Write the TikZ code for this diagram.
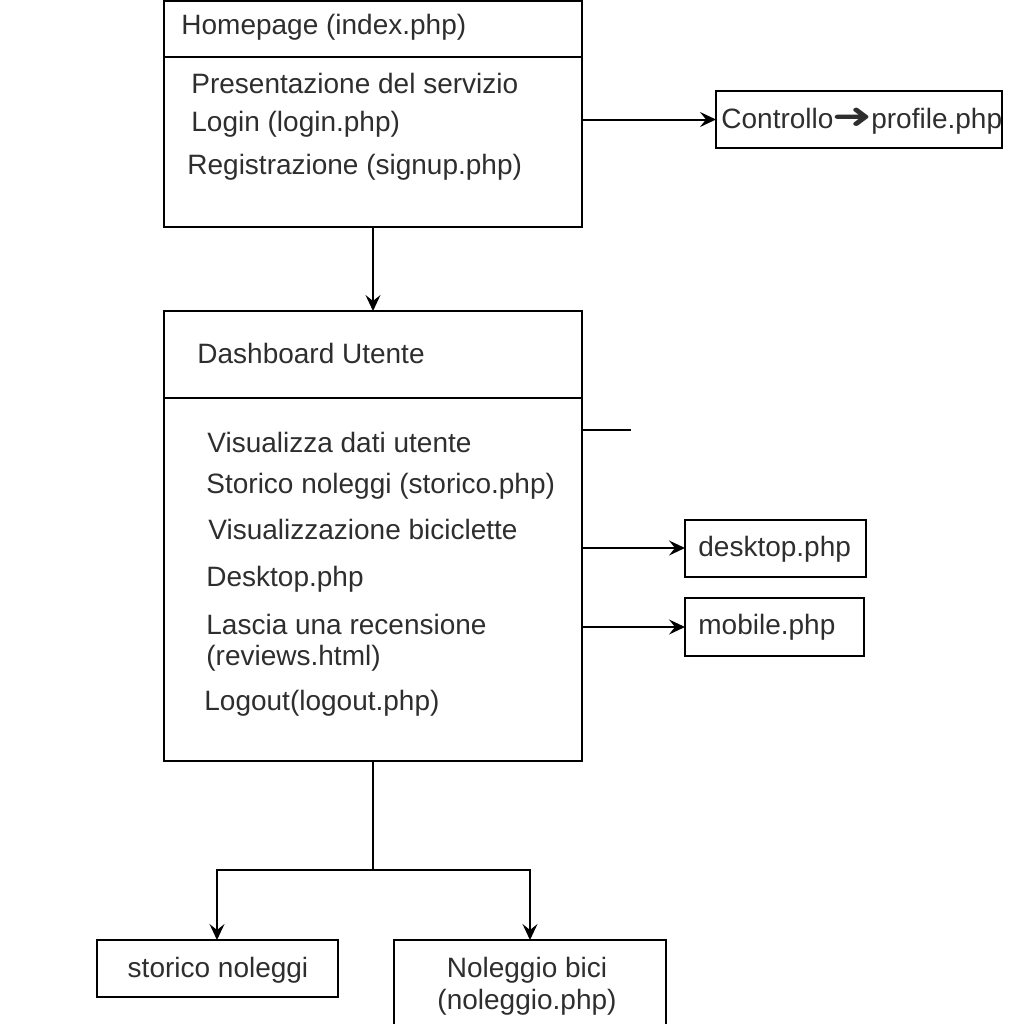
\documentclass[tikz,border=0pt]{standalone}
\usepackage{fontspec}
\setmainfont{Liberation Sans}
\newfontfamily\arrowfont{DejaVu Sans}
\usetikzlibrary{arrows.meta}
\begin{document}
\begin{tikzpicture}[x=0.5pt,y=-0.5pt,
    box/.style={draw,line width=1pt,inner sep=0pt,outer sep=0pt},
    txt/.style={anchor=base west,inner sep=0pt,text=black!82,font=\fontsize{14}{16}\selectfont},
    ctxt/.style={txt,anchor=base},
    link/.style={line width=1pt,-{Stealth[length=8pt,width=7.5pt,inset=3pt]}}]
    \useasboundingbox (0,0) rectangle (1022,1024);

    % homepage
    \node[box,minimum width=209pt,minimum height=28pt] (homehead) at (373,29) {};
    \node[box,minimum width=209pt,minimum height=85pt] (homebody) at (373,142) {};
    \node[txt] (hometitle) at (181,34) {Homepage (index.php)};
    \node[txt] (homeA) at (191,93)  {Presentazione del servizio};
    \node[txt] (homeB) at (191,131) {Login (login.php)};
    \node[txt] (homeC) at (187,174) {Registrazione (signup.php)};

    \node[box,minimum width=143pt,minimum height=28.5pt] (ctrl) at (859,119.5) {};
    \node[txt] (ctrltxt) at (721,128) {Controllo{\arrowfont\fontsize{17}{17}\selectfont\kern-0.5pt\scalebox{1.4}[1.05]{➜}\kern-0.5pt}profile.php};

    % dashboard
    \node[box,minimum width=209pt,minimum height=43.5pt] (dashhead) at (373,354.5) {};
    \node[box,minimum width=209pt,minimum height=181.5pt] (dashbody) at (373,579.5) {};
    \node[txt] (dashtitle) at (197,363) {Dashboard Utente};
    \node[txt] (dashA) at (207,452) {Visualizza dati utente};
    \node[txt] (dashB) at (206,493) {Storico noleggi (storico.php)};
    \node[txt] (dashC) at (208,539) {Visualizzazione biciclette};
    \node[txt] (dashD) at (206,586) {Desktop.php};
    \node[txt] (dashE) at (206,634) {Lascia una recensione};
    \node[txt] (dashF) at (206,665) {(reviews.html)};
    \node[txt] (dashG) at (204,710) {Logout(logout.php)};

    \node[box,minimum width=90.5pt,minimum height=28.5pt] (desk) at (775.5,548) {};
    \node[txt] (desktxt) at (698,556) {desktop.php};
    \node[box,minimum width=89.5pt,minimum height=29pt] (mob) at (774.5,627) {};
    \node[txt] (mobtxt) at (698,634) {mobile.php};

    % bottom
    \node[box,minimum width=120.5pt,minimum height=28.5pt] (storico) at (217,968.5) {};
    \node[ctxt] (storicotxt) at (218,977) {storico noleggi};
    \node[box,minimum width=136pt,minimum height=50pt] (nolo) at (530,990) {};
    \node[ctxt] (nolotxtA) at (527,977) {Noleggio bici};
    \node[ctxt] (nolotxtB) at (527,1009) {(noleggio.php)};

    \coordinate (stub) at (631,430);
    \coordinate (split) at (373,870);

    \draw[link] (homebody.east |- ctrl) -- (ctrl);
    \draw[link] (homebody) -- (dashhead);
    \draw[line width=1pt] (dashbody.east |- stub) -- (stub);
    \draw[link] (dashbody.east |- desk) -- (desk);
    \draw[link] (dashbody.east |- mob) -- (mob);
    \draw[line width=1pt] (dashbody) -- (split);
    \draw[link] (split) -| (storico);
    \draw[link] (split) -| (nolo);
\end{tikzpicture}
\end{document}
